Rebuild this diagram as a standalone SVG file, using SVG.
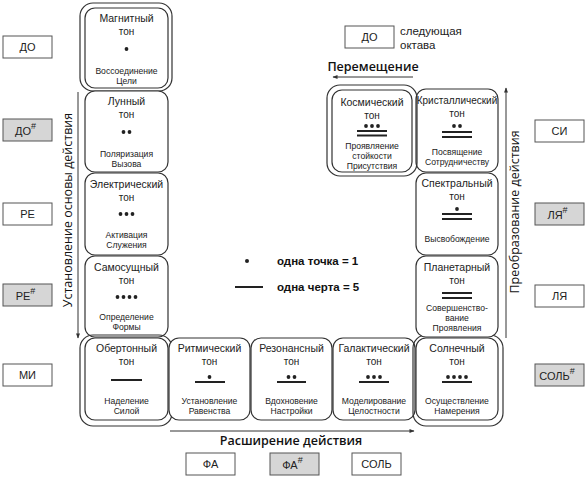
<svg xmlns="http://www.w3.org/2000/svg" width="587" height="480" viewBox="0 0 587 480">
<defs>
<style>
.nb{fill:#fff;stroke:#333;stroke-width:1.2}
.ob{fill:none;stroke:#333;stroke-width:1.2}
.t{font-family:"Liberation Sans",Arial,sans-serif;font-size:10.5px;fill:#222;text-anchor:middle}
.tn{font-family:"Liberation Sans",Arial,sans-serif;font-size:10px;fill:#222;text-anchor:middle}
.l{font-family:"Liberation Sans",Arial,sans-serif;font-size:8.6px;fill:#222;text-anchor:middle}
.d{fill:#222}
.b{stroke:#222;stroke-width:2}
.note{fill:#fff;stroke:#555;stroke-width:1}
.sharp{fill:#d6d6d6;stroke:#555;stroke-width:1}
.nt{font-family:"Liberation Sans",Arial,sans-serif;font-size:11px;fill:#222;text-anchor:middle}
.sup{font-size:9px}
.ax{font-family:"Open Sans","Noto Sans",sans-serif;font-size:12.5px;fill:#111;text-anchor:middle}
.axb{font-family:"Open Sans","Noto Sans",sans-serif;font-size:12.5px;fill:#111;text-anchor:middle;font-weight:600}
.lg{font-family:"Liberation Sans",Arial,sans-serif;font-size:11.5px;fill:#111;font-weight:bold}
.arr{stroke:#333;stroke-width:1;fill:none;marker-end:url(#ah)}
</style>
<marker id="ah" viewBox="0 0 10 10" refX="9" refY="5" markerWidth="7" markerHeight="5" orient="auto" markerUnits="userSpaceOnUse">
<path d="M0,1 L10,5 L0,9 z" fill="#333"/>
</marker>
</defs>
<rect width="587" height="480" fill="#fff"/>

<g id="connectors">
<line class="arr" x1="78" y1="92" x2="78" y2="338"/>
<line class="arr" x1="170" y1="431" x2="414" y2="431"/>
<line class="arr" x1="506" y1="338" x2="506" y2="88"/>
<line class="arr" x1="413" y1="77" x2="333" y2="77"/>
</g>

<g id="axis-labels">
<text class="ax" transform="translate(72,210) rotate(-90)">Установление основы действия</text>
<text class="ax" transform="translate(519,212) rotate(-90)">Преобразование действия</text>
<text class="axb" x="291" y="445">Расширение действия</text>
<text class="axb" x="373" y="71">Перемещение</text>
</g>

<g id="magnetic">
<rect class="ob" x="80" y="3" width="92" height="88" rx="13"/>
<rect class="nb" x="85" y="8" width="83" height="80" rx="10"/>
<text class="t" x="126.5" y="22">Магнитный</text>
<text class="tn" x="126.5" y="35">тон</text>
<circle class="d" cx="126.5" cy="49" r="1.9"/>
<text class="l" x="126.5" y="74">Воссоединение</text>
<text class="l" x="126.5" y="84">Цели</text>
</g>

<g id="lunar">
<rect class="nb" x="85" y="91" width="83" height="81" rx="10"/>
<text class="t" x="126.5" y="105">Лунный</text>
<text class="tn" x="126.5" y="118">тон</text>
<circle class="d" cx="123.5" cy="132" r="1.9"/><circle class="d" cx="129.5" cy="132" r="1.9"/>
<text class="l" x="126.5" y="157">Поляризация</text>
<text class="l" x="126.5" y="167">Вызова</text>
</g>

<g id="electric">
<rect class="nb" x="85" y="173" width="83" height="82" rx="10"/>
<text class="t" x="126.5" y="188">Электрический</text>
<text class="tn" x="126.5" y="201">тон</text>
<circle class="d" cx="120.5" cy="214" r="1.9"/><circle class="d" cx="126.5" cy="214" r="1.9"/><circle class="d" cx="132.5" cy="214" r="1.9"/>
<text class="l" x="126.5" y="238">Активация</text>
<text class="l" x="126.5" y="248">Служения</text>
</g>

<g id="self-existing">
<rect class="nb" x="85" y="256" width="83" height="81" rx="10"/>
<text class="t" x="126.5" y="271">Самосущный</text>
<text class="tn" x="126.5" y="284">тон</text>
<circle class="d" cx="117.5" cy="297" r="1.9"/><circle class="d" cx="123.5" cy="297" r="1.9"/><circle class="d" cx="129.5" cy="297" r="1.9"/><circle class="d" cx="135.5" cy="297" r="1.9"/>
<text class="l" x="126.5" y="320">Определение</text>
<text class="l" x="126.5" y="330">Формы</text>
</g>

<g id="overtone">
<rect class="ob" x="80" y="335" width="92" height="91" rx="13"/>
<rect class="nb" x="85" y="338" width="83" height="82" rx="10"/>
<text class="t" x="126.5" y="352">Обертонный</text>
<text class="tn" x="126.5" y="365">тон</text>
<line class="b" x1="111" y1="380" x2="142" y2="380"/>
<text class="l" x="126.5" y="404">Наделение</text>
<text class="l" x="126.5" y="414">Силой</text>
</g>

<g id="rhythmic">
<rect class="nb" x="169" y="338" width="81" height="82" rx="10"/>
<text class="t" x="209.5" y="352">Ритмический</text>
<text class="tn" x="209.5" y="365">тон</text>
<circle class="d" cx="209.5" cy="377" r="1.9"/>
<line class="b" x1="195" y1="382" x2="225" y2="382"/>
<text class="l" x="209.5" y="404">Установление</text>
<text class="l" x="209.5" y="414">Равенства</text>
</g>

<g id="resonant">
<rect class="nb" x="251" y="338" width="81" height="82" rx="10"/>
<text class="t" x="291.5" y="352">Резонансный</text>
<text class="tn" x="291.5" y="365">тон</text>
<circle class="d" cx="288.5" cy="377" r="1.9"/><circle class="d" cx="294.5" cy="377" r="1.9"/>
<line class="b" x1="277" y1="382" x2="306" y2="382"/>
<text class="l" x="291.5" y="404">Вдохновение</text>
<text class="l" x="291.5" y="414">Настройки</text>
</g>

<g id="galactic">
<rect class="nb" x="333" y="338" width="82" height="82" rx="10"/>
<text class="t" x="374" y="352">Галактический</text>
<text class="tn" x="374" y="365">тон</text>
<circle class="d" cx="368" cy="377" r="1.9"/><circle class="d" cx="374" cy="377" r="1.9"/><circle class="d" cx="380" cy="377" r="1.9"/>
<line class="b" x1="359" y1="382" x2="389" y2="382"/>
<text class="l" x="374" y="404">Моделирование</text>
<text class="l" x="374" y="414">Целостности</text>
</g>

<g id="solar">
<rect class="ob" x="413" y="335" width="90" height="91" rx="13"/>
<rect class="nb" x="416" y="338" width="82" height="82" rx="10"/>
<text class="t" x="457" y="352">Солнечный</text>
<text class="tn" x="457" y="365">тон</text>
<circle class="d" cx="448" cy="377" r="1.9"/><circle class="d" cx="454" cy="377" r="1.9"/><circle class="d" cx="460" cy="377" r="1.9"/><circle class="d" cx="466" cy="377" r="1.9"/>
<line class="b" x1="442" y1="382" x2="472" y2="382"/>
<text class="l" x="457" y="404">Осуществление</text>
<text class="l" x="457" y="414">Намерения</text>
</g>

<g id="planetary">
<rect class="nb" x="416" y="256" width="82" height="81" rx="10"/>
<text class="t" x="457" y="271">Планетарный</text>
<text class="tn" x="457" y="284">тон</text>
<line class="b" x1="442" y1="293" x2="472" y2="293"/>
<line class="b" x1="442" y1="298" x2="472" y2="298"/>
<text class="l" x="457" y="311">Совершенство-</text>
<text class="l" x="457" y="321">вание</text>
<text class="l" x="457" y="331">Проявления</text>
</g>

<g id="spectral">
<rect class="nb" x="416" y="173" width="82" height="82" rx="10"/>
<text class="t" x="457" y="187">Спектральный</text>
<text class="tn" x="457" y="200">тон</text>
<circle class="d" cx="457" cy="209" r="1.9"/>
<line class="b" x1="442" y1="214" x2="472" y2="214"/>
<line class="b" x1="442" y1="219" x2="472" y2="219"/>
<text class="l" x="457" y="242">Высвобождение</text>
</g>

<g id="crystal">
<rect class="nb" x="416" y="89" width="82" height="83" rx="10"/>
<text class="t" x="457" y="104" style="font-size:10px">Кристаллический</text>
<text class="tn" x="457" y="117">тон</text>
<circle class="d" cx="454" cy="126" r="1.9"/><circle class="d" cx="460" cy="126" r="1.9"/>
<line class="b" x1="442" y1="132" x2="472" y2="132"/>
<line class="b" x1="442" y1="137" x2="472" y2="137"/>
<text class="l" x="457" y="155">Посвящение</text>
<text class="l" x="457" y="165">Сотрудничеству</text>
</g>

<g id="cosmic">
<rect class="ob" x="327" y="85" width="90" height="91" rx="13"/>
<rect class="nb" x="332" y="90" width="80" height="82" rx="10"/>
<text class="t" x="372" y="106">Космический</text>
<text class="tn" x="372" y="119">тон</text>
<circle class="d" cx="366" cy="126" r="1.9"/><circle class="d" cx="372" cy="126" r="1.9"/><circle class="d" cx="378" cy="126" r="1.9"/>
<line class="b" x1="357" y1="131" x2="387" y2="131"/>
<line class="b" x1="357" y1="135.5" x2="387" y2="135.5"/>
<text class="l" x="372" y="149">Проявляение</text>
<text class="l" x="372" y="159">стойкости</text>
<text class="l" x="372" y="169">Присутствия</text>
</g>

<g id="legend">
<circle class="d" cx="247" cy="261" r="2"/>
<text class="lg" x="277" y="265">одна точка = 1</text>
<line class="b" x1="235" y1="287" x2="263" y2="287"/>
<text class="lg" x="277" y="291">одна черта = 5</text>
</g>

<g id="notes">
<rect class="note" x="3" y="36" width="49" height="22"/><text class="nt" x="27.5" y="51">ДО</text>
<rect class="sharp" x="3" y="119" width="49" height="22"/><text class="nt" x="25.5" y="135">ДО<tspan class="sup" dy="-6">#</tspan></text>
<rect class="note" x="3" y="203" width="49" height="22"/><text class="nt" x="27.5" y="218">РЕ</text>
<rect class="sharp" x="3" y="284" width="49" height="22"/><text class="nt" x="25.5" y="300">РЕ<tspan class="sup" dy="-6">#</tspan></text>
<rect class="note" x="3" y="364" width="49" height="22"/><text class="nt" x="27.5" y="379">МИ</text>
<rect class="note" x="535" y="120" width="49" height="22"/><text class="nt" x="559.5" y="135">СИ</text>
<rect class="sharp" x="535" y="203" width="49" height="22"/><text class="nt" x="557.5" y="219">ЛЯ<tspan class="sup" dy="-6">#</tspan></text>
<rect class="note" x="535" y="285" width="49" height="22"/><text class="nt" x="559.5" y="300">ЛЯ</text>
<rect class="sharp" x="535" y="364" width="49" height="22"/><text class="nt" x="557" y="380">СОЛЬ<tspan class="sup" dy="-6">#</tspan></text>
<rect class="note" x="186" y="453" width="49" height="22"/><text class="nt" x="210.5" y="468">ФА</text>
<rect class="sharp" x="270" y="453" width="49" height="22"/><text class="nt" x="292.5" y="469">ФА<tspan class="sup" dy="-6">#</tspan></text>
<rect class="note" x="352" y="453" width="49" height="22"/><text class="nt" x="376.5" y="468">СОЛЬ</text>
<rect class="note" x="345" y="26" width="49" height="22"/><text class="nt" x="369.5" y="41">ДО</text>
<text class="nt" x="400" y="35" style="text-anchor:start;font-size:11.5px">следующая</text>
<text class="nt" x="400" y="49" style="text-anchor:start;font-size:11.5px">октава</text>
</g>
</svg>
